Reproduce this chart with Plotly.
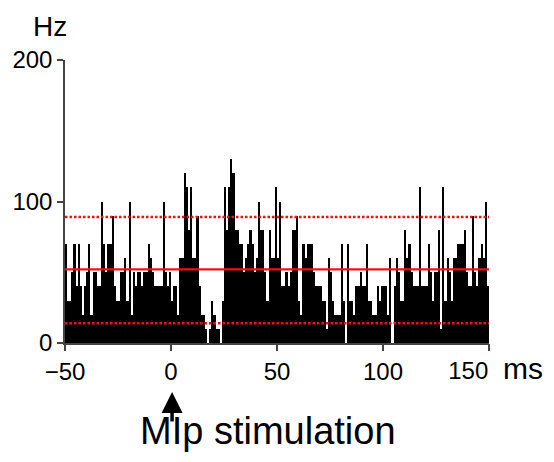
import plotly.graph_objects as go

# Bin start times (ms), 1-ms bins from -50 to 149
bin_start = list(range(-50, 150))

# Firing rate per bin (Hz)
rate_pre = [70, 30, 30, 50, 70, 40, 70, 40, 20, 40,
            50, 70, 20, 50, 50, 40, 40, 100, 70, 50,
            70, 70, 90, 40, 30, 30, 50, 50, 60, 30,
            100, 20, 50, 40, 50, 50, 40, 50, 50, 70,
            60, 50, 40, 40, 40, 40, 100, 50, 40, 50]
rate_0_49 = [30, 40, 40, 20, 60, 60, 120, 110, 80, 110,
             60, 60, 90, 40, 20, 20, 10, 0, 10, 30,
             20, 10, 10, 0, 30, 110, 80, 110, 130, 120,
             80, 80, 70, 70, 50, 60, 70, 80, 70, 50,
             60, 100, 80, 80, 50, 30, 80, 60, 60, 110]
rate_50_99 = [60, 100, 40, 40, 50, 40, 50, 80, 80, 90,
              30, 20, 70, 60, 70, 70, 70, 50, 40, 40,
              40, 30, 30, 10, 60, 50, 30, 20, 20, 20,
              70, 30, 0, 70, 30, 30, 20, 40, 40, 50,
              40, 40, 70, 30, 30, 20, 20, 40, 30, 40]
rate_100_149 = [40, 40, 20, 60, 0, 40, 60, 50, 30, 30,
                80, 60, 70, 50, 40, 40, 40, 110, 40, 40,
                40, 70, 50, 30, 50, 50, 80, 10, 110, 30,
                60, 50, 30, 60, 60, 70, 70, 70, 80, 50,
                40, 40, 90, 50, 40, 60, 70, 60, 100, 40]
rate = rate_pre + rate_0_49 + rate_50_99 + rate_100_149

mean_rate = 52
upper_limit = 89
lower_limit = 14

x_ticks = [-50, 0, 50, 100, 150]
x_ticklabels = ["\u221250", "0", "50", "100", ""]
x_end_tick = [150]
x_end_label = ["150"]
y_ticks = [0, 100, 200]
y_ticklabels = ["0", "100", "200"]

FONT = "Liberation Sans, Arial, sans-serif"
AXIS_GRAY = "#444444"
RED = "rgb(235,20,20)"

fig = go.Figure()
fig.add_trace(go.Bar(
    x=[b + 0.5 for b in bin_start], y=rate, width=1,
    marker=dict(color="black", line=dict(width=0)),
    showlegend=False, hoverinfo="skip",
))

for val, dash, w in [(mean_rate, "solid", 2.2), (upper_limit, "2.5px,2px", 2.6), (lower_limit, "2.5px,2px", 2.6)]:
    fig.add_shape(type="line", xref="x", yref="y", x0=-50, x1=151, y0=val, y1=val,
                  line=dict(color=RED, width=w, dash=dash), layer="above")

tick_common = dict(ticks="outside", ticklen=6, tickwidth=1.5, tickcolor=AXIS_GRAY,
                   tickfont=dict(size=24, family=FONT, color="black"))

fig.update_layout(
    width=554, height=462,
    margin=dict(l=65, r=65, t=60, b=119),
    paper_bgcolor="white", plot_bgcolor="white",
    bargap=0,
    font=dict(family=FONT, color="black", size=24),
    xaxis=dict(range=[-50, 150], tickvals=x_ticks, ticktext=x_ticklabels,
               showgrid=False, zeroline=False, showline=True, linecolor=AXIS_GRAY, linewidth=1.5,
               **tick_common),
    xaxis2=dict(range=[-50, 150], tickvals=x_end_tick, ticktext=x_end_label,
                overlaying="x", side="bottom", anchor="y", matches="x",
                showgrid=False, zeroline=False, showline=False,
                ticklabelposition="outside left", ticklabelstandoff=6, **tick_common),
    yaxis=dict(range=[0, 200], tickvals=y_ticks, ticktext=y_ticklabels,
               showgrid=False, zeroline=False, showline=True, linecolor=AXIS_GRAY, linewidth=1.5,
               **tick_common),
    annotations=[
        dict(text="Hz", xref="paper", yref="paper", x=-0.036, y=1.117, showarrow=False,
             font=dict(size=28, family=FONT, color="black"), xanchor="center", yanchor="middle"),
        dict(text="ms", xref="paper", yref="paper", x=1.08, y=-0.09, showarrow=False,
             font=dict(size=30, family=FONT, color="black"), xanchor="center", yanchor="middle"),
        dict(text="MIp stimulation", xref="paper", yref="paper", x=0.4776, y=-0.312, showarrow=False,
             font=dict(size=38, family=FONT, color="black"), xanchor="center", yanchor="middle"),
        dict(text="", xref="x", yref="paper", x=0.5, y=-0.173, ax=0, ay=30,
             showarrow=True, arrowhead=2, arrowsize=1.2, arrowwidth=3.5, arrowcolor="black",
             font=dict(size=1), borderpad=0),
    ],
)

# invisible trace so the second x axis is drawn
fig.add_trace(go.Scatter(x=[None], y=[None], xaxis="x2", yaxis="y", showlegend=False, hoverinfo="skip"))

fig.write_html("out.html")
